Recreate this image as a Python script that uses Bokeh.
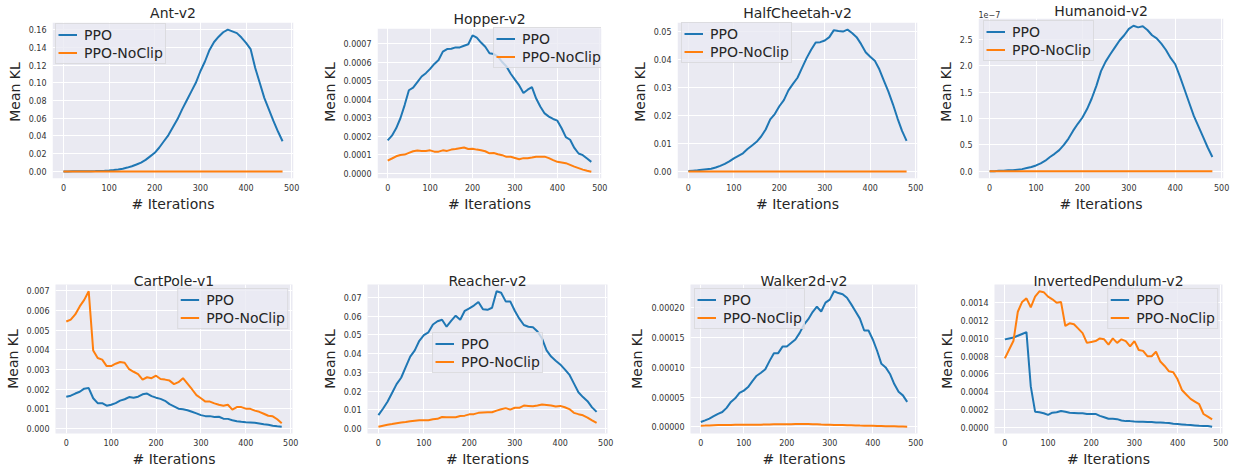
from bokeh.plotting import figure
from bokeh.layouts import column, row
from bokeh.models import Range1d, FixedTicker, PrintfTickFormatter, Label, BoxAnnotation
from bokeh.embed import file_html
from bokeh.resources import INLINE

iterations = list(range(0, 490, 10))

ant_ppo = [0.0000, 0.0000, 0.0001, 0.0001, 0.0002, 0.0002, 0.0003, 0.0004, 0.0006, 0.0008,
           0.0011, 0.0016, 0.0022, 0.0031, 0.0043, 0.0058, 0.0078, 0.0100, 0.0130, 0.0170,
           0.0210, 0.0270, 0.0340, 0.0410, 0.0500, 0.0590, 0.0700, 0.0800, 0.0900, 0.1000,
           0.1130, 0.1240, 0.1370, 0.1460, 0.1520, 0.1570, 0.1600, 0.1580, 0.1560, 0.1510,
           0.1450, 0.1380, 0.1170, 0.1000, 0.0830, 0.0700, 0.0570, 0.0450, 0.0340]
ant_noclip = [0.00001, 0.00001, 0.00001, 0.00001, 0.00001, 0.00001, 0.00001, 0.00001, 0.00001, 0.00001,
              0.00001, 0.00002, 0.00002, 0.00002, 0.00002, 0.00002, 0.00002, 0.00002, 0.00002, 0.00002,
              0.00002, 0.00002, 0.00002, 0.00002, 0.00002, 0.00002, 0.00002, 0.00002, 0.00002, 0.00002,
              0.00002, 0.00002, 0.00002, 0.00002, 0.00002, 0.00002, 0.00002, 0.00002, 0.00002, 0.00002,
              0.00002, 0.00002, 0.00002, 0.00001, 0.00001, 0.00001, 0.00001, 0.00001, 0.00001]

hopper_ppo = [0.000178, 0.000203, 0.000243, 0.000297, 0.000368, 0.000448, 0.000462, 0.000492, 0.000522, 0.000540,
              0.000563, 0.000590, 0.000611, 0.000656, 0.000670, 0.000672, 0.000679, 0.000679, 0.000688, 0.000696,
              0.000744, 0.000732, 0.000705, 0.000682, 0.000647, 0.000643, 0.000629, 0.000600, 0.000576, 0.000537,
              0.000505, 0.000474, 0.000433, 0.000451, 0.000465, 0.000403, 0.000359, 0.000323, 0.000306, 0.000293,
              0.000284, 0.000243, 0.000195, 0.000181, 0.000137, 0.000107, 0.000098, 0.000080, 0.000062]
hopper_noclip = [0.000069, 0.000080, 0.000092, 0.000099, 0.000101, 0.000110, 0.000119, 0.000123, 0.000121, 0.000121,
                 0.000124, 0.000117, 0.000117, 0.000124, 0.000121, 0.000128, 0.000131, 0.000135, 0.000139, 0.000131,
                 0.000133, 0.000128, 0.000124, 0.000119, 0.000108, 0.000110, 0.000103, 0.000098, 0.000089, 0.000089,
                 0.000083, 0.000076, 0.000082, 0.000082, 0.000085, 0.000089, 0.000089, 0.000090, 0.000082, 0.000071,
                 0.000062, 0.000059, 0.000055, 0.000046, 0.000036, 0.000028, 0.000020, 0.000014, 0.000009]

halfcheetah_ppo = [0.0002, 0.0003, 0.0004, 0.0006, 0.0008, 0.0010, 0.0014, 0.0020, 0.0027, 0.0036,
                   0.0047, 0.0056, 0.0065, 0.0080, 0.0093, 0.0106, 0.0125, 0.0150, 0.0186, 0.0205,
                   0.0233, 0.0255, 0.0290, 0.0313, 0.0335, 0.0370, 0.0405, 0.0435, 0.0461, 0.0462,
                   0.0468, 0.0480, 0.0505, 0.0502, 0.0500, 0.0507, 0.0495, 0.0480, 0.0455, 0.0426,
                   0.0410, 0.0396, 0.0365, 0.0325, 0.0285, 0.0240, 0.0190, 0.0145, 0.0109]
halfcheetah_noclip = [0.00002, 0.00002, 0.00002, 0.00002, 0.00002, 0.00002, 0.00002, 0.00002, 0.00002, 0.00003,
                      0.00003, 0.00003, 0.00003, 0.00003, 0.00003, 0.00003, 0.00003, 0.00003, 0.00003, 0.00003,
                      0.00003, 0.00003, 0.00003, 0.00003, 0.00003, 0.00003, 0.00003, 0.00003, 0.00003, 0.00003,
                      0.00003, 0.00003, 0.00003, 0.00003, 0.00003, 0.00003, 0.00003, 0.00003, 0.00003, 0.00003,
                      0.00003, 0.00003, 0.00002, 0.00002, 0.00002, 0.00002, 0.00002, 0.00002, 0.00002]

# Humanoid values in units of 1e-7 (axis offset text "1e-7")
humanoid_ppo = [0.00, 0.00, 0.01, 0.01, 0.02, 0.02, 0.03, 0.04, 0.06, 0.08,
                0.11, 0.15, 0.20, 0.27, 0.33, 0.40, 0.50, 0.62, 0.77, 0.90,
                1.02, 1.18, 1.38, 1.62, 1.90, 2.08, 2.22, 2.35, 2.48, 2.58,
                2.70, 2.76, 2.73, 2.75, 2.68, 2.58, 2.52, 2.42, 2.30, 2.15,
                2.03, 1.80, 1.55, 1.30, 1.05, 0.85, 0.65, 0.45, 0.27]
humanoid_noclip = [0.0, 0.0, 0.0, 0.0, 0.0, 0.0, 0.0, 0.0, 0.0, 0.0,
                   0.0, 0.0, 0.0, 0.0, 0.0, 0.0, 0.0, 0.0, 0.0, 0.0,
                   0.0, 0.0, 0.0, 0.0, 0.0, 0.0, 0.0, 0.0, 0.0, 0.0,
                   0.0, 0.0, 0.0, 0.0, 0.0, 0.0, 0.0, 0.0, 0.0, 0.0,
                   0.0, 0.0, 0.0, 0.0, 0.0, 0.0, 0.0, 0.0, 0.0]

cartpole_ppo = [0.00161, 0.00166, 0.00177, 0.00186, 0.00202, 0.00205, 0.00153, 0.00128, 0.00128, 0.00115,
                0.00120, 0.00128, 0.00141, 0.00148, 0.00159, 0.00156, 0.00161, 0.00173, 0.00177, 0.00164,
                0.00156, 0.00150, 0.00140, 0.00123, 0.00112, 0.00100, 0.00097, 0.00092, 0.00084, 0.00076,
                0.00067, 0.00062, 0.00062, 0.00058, 0.00059, 0.00049, 0.00048, 0.00041, 0.00036, 0.00033,
                0.00031, 0.00030, 0.00028, 0.00025, 0.00021, 0.00018, 0.00013, 0.00010, 0.00008]
cartpole_noclip = [0.00544, 0.00554, 0.00580, 0.00621, 0.00654, 0.00698, 0.00396, 0.00358, 0.00350, 0.00317,
                   0.00317, 0.00329, 0.00338, 0.00334, 0.00301, 0.00288, 0.00276, 0.00248, 0.00260, 0.00255,
                   0.00268, 0.00251, 0.00248, 0.00243, 0.00225, 0.00235, 0.00255, 0.00227, 0.00199, 0.00169,
                   0.00153, 0.00136, 0.00136, 0.00127, 0.00120, 0.00115, 0.00120, 0.00095, 0.00108, 0.00108,
                   0.00100, 0.00099, 0.00090, 0.00084, 0.00074, 0.00064, 0.00061, 0.00046, 0.00026]

reacher_ppo = [0.0072, 0.0106, 0.0143, 0.0190, 0.0237, 0.0271, 0.0328, 0.0384, 0.0417, 0.0468,
               0.0498, 0.0513, 0.0555, 0.0572, 0.0580, 0.0543, 0.0574, 0.0602, 0.0580, 0.0628,
               0.0641, 0.0656, 0.0675, 0.0636, 0.0633, 0.0644, 0.0732, 0.0724, 0.0678, 0.0678,
               0.0628, 0.0586, 0.0552, 0.0543, 0.0540, 0.0518, 0.0480, 0.0417, 0.0384, 0.0362,
               0.0342, 0.0316, 0.0288, 0.0241, 0.0194, 0.0168, 0.0146, 0.0113, 0.0089]
reacher_noclip = [0.0010, 0.0015, 0.0020, 0.0024, 0.0029, 0.0032, 0.0035, 0.0039, 0.0042, 0.0044,
                  0.0045, 0.0045, 0.0050, 0.0052, 0.0062, 0.0061, 0.0061, 0.0061, 0.0067, 0.0069,
                  0.0076, 0.0077, 0.0084, 0.0086, 0.0087, 0.0087, 0.0096, 0.0103, 0.0109, 0.0101,
                  0.0111, 0.0111, 0.0123, 0.0121, 0.0119, 0.0123, 0.0128, 0.0126, 0.0123, 0.0118,
                  0.0121, 0.0114, 0.0104, 0.0084, 0.0077, 0.0071, 0.0059, 0.0044, 0.0030]

walker_ppo = [0.0000083, 0.0000110, 0.0000140, 0.0000180, 0.0000220, 0.0000250, 0.0000320, 0.0000420, 0.0000480, 0.0000570,
              0.0000610, 0.0000670, 0.0000770, 0.0000860, 0.0000910, 0.0000970, 0.0001110, 0.0001240, 0.0001240, 0.0001350,
              0.0001350, 0.0001410, 0.0001470, 0.0001580, 0.0001720, 0.0001810, 0.0001930, 0.0002020, 0.0001940, 0.0002090,
              0.0002140, 0.0002280, 0.0002250, 0.0002230, 0.0002170, 0.0002060, 0.0001940, 0.0001820, 0.0001620, 0.0001620,
              0.0001470, 0.0001280, 0.0001060, 0.0001000, 0.0000890, 0.0000720, 0.0000590, 0.0000530, 0.0000420]
walker_noclip = [0.0000020, 0.0000022, 0.0000025, 0.0000028, 0.0000030, 0.0000032, 0.0000033, 0.0000034, 0.0000035, 0.0000036,
                 0.0000037, 0.0000037, 0.0000036, 0.0000036, 0.0000038, 0.0000040, 0.0000042, 0.0000044, 0.0000045, 0.0000045,
                 0.0000046, 0.0000046, 0.0000047, 0.0000048, 0.0000050, 0.0000048, 0.0000046, 0.0000043, 0.0000040, 0.0000038,
                 0.0000036, 0.0000034, 0.0000032, 0.0000030, 0.0000028, 0.0000026, 0.0000024, 0.0000022, 0.0000021, 0.0000020,
                 0.0000019, 0.0000017, 0.0000015, 0.0000013, 0.0000011, 0.0000009, 0.0000007, 0.0000005, 0.0000003]

pendulum_ppo = [0.000989, 0.001000, 0.001010, 0.001030, 0.001050, 0.001070, 0.000460, 0.000176, 0.000169, 0.000158,
                0.000140, 0.000165, 0.000169, 0.000184, 0.000176, 0.000165, 0.000162, 0.000158, 0.000158, 0.000151,
                0.000151, 0.000151, 0.000129, 0.000114, 0.000096, 0.000096, 0.000092, 0.000077, 0.000070, 0.000070,
                0.000066, 0.000063, 0.000063, 0.000059, 0.000059, 0.000055, 0.000055, 0.000051, 0.000048, 0.000040,
                0.000037, 0.000033, 0.000029, 0.000026, 0.000022, 0.000018, 0.000015, 0.000015, 0.000007]
pendulum_noclip = [0.000776, 0.000875, 0.000974, 0.001300, 0.001410, 0.001450, 0.001350, 0.001470, 0.001530, 0.001520,
                   0.001470, 0.001440, 0.001400, 0.001410, 0.001140, 0.001170, 0.001160, 0.001110, 0.001060, 0.000950,
                   0.000960, 0.000970, 0.001000, 0.000990, 0.000930, 0.001000, 0.000950, 0.000990, 0.000970, 0.000910,
                   0.000970, 0.000870, 0.000860, 0.000800, 0.000800, 0.000850, 0.000740, 0.000690, 0.000630, 0.000620,
                   0.000540, 0.000420, 0.000370, 0.000320, 0.000290, 0.000260, 0.000150, 0.000120, 0.000090]

x_ticks = [0, 100, 200, 300, 400, 500]

BG = "#EAEAF2"
TXT = "#262626"
FONT = "DejaVu Sans"
TOP_H = 240
BOT_H = 229
EXT_TOP = 5     # common (row-aligned) frame top of the top row


def style_common(p, yticks, yfmt):
    p.xaxis.ticker = FixedTicker(ticks=x_ticks)
    p.yaxis.ticker = FixedTicker(ticks=yticks)
    p.yaxis.formatter = PrintfTickFormatter(format=yfmt)
    for ax in (p.xaxis[0], p.yaxis[0]):
        ax.axis_line_color = None
        ax.major_tick_line_color = None
        ax.minor_tick_line_color = None
        ax.major_tick_out = 0
        ax.major_tick_in = 0
        ax.major_label_text_font = FONT
        ax.major_label_text_font_size = "8px"
        ax.major_label_text_color = "#333333"
        ax.axis_label_text_font = FONT
        ax.axis_label_text_font_size = "14px"
        ax.axis_label_text_font_style = "normal"
        ax.axis_label_text_color = TXT
        ax.major_label_standoff = 6
        ax.axis_label_standoff = 3
    p.xaxis.major_label_standoff = 5
    p.xaxis.axis_label_standoff = 2
    p.xaxis.axis_label = "# Iterations"
    p.yaxis.axis_label = "Mean KL"
    p.xgrid.grid_line_color = "white"
    p.ygrid.grid_line_color = "white"
    p.xgrid.grid_line_width = 1
    p.ygrid.grid_line_width = 1


def style_legend(p, loc):
    lg = p.legend[0]
    lg.location = loc
    lg.background_fill_color = BG
    lg.background_fill_alpha = 0.8
    lg.border_line_color = "#cccccc"
    lg.border_line_width = 1
    lg.label_text_font = FONT
    lg.label_text_font_size = "14px"
    lg.label_text_color = TXT
    lg.glyph_width = 19
    lg.glyph_height = 17
    lg.label_height = 17
    lg.label_standoff = 7
    lg.spacing = 1
    lg.padding = 2
    lg.margin = 4


def make_panel(title, ppo, noclip, yticks, yfmt, width, height, borders, legend_loc,
               real_top=None, title_y=None, offset_text=None, offset_y=None):
    bl, br, bt, bb = borders
    xlo, xhi = min(iterations), max(iterations)
    xpad = (xhi - xlo) * 0.05
    x0, x1 = xlo - xpad, xhi + xpad
    allv = list(ppo) + list(noclip)
    lo, hi = min(allv), max(allv)
    pad = (hi - lo) * 0.05
    y0, y1 = lo - pad, hi + pad
    frame_bottom = height - bb
    extended = real_top is not None
    if extended:
        true_h = frame_bottom - real_top
        ext_h = frame_bottom - bt
        y1_plot = y0 + (y1 - y0) * ext_h / true_h
    else:
        y1_plot = y1
    p = figure(width=width, height=height, output_backend="svg", toolbar_location=None,
               x_range=Range1d(x0, x1), y_range=Range1d(y0, y1_plot),
               min_border_left=bl, min_border_right=br, min_border_top=bt,
               min_border_bottom=bb,
               background_fill_color="white" if extended else BG,
               border_fill_color="white", outline_line_color=None)
    if extended:
        p.title.text = ""
        p.title.text_font_size = "1px"
        # the grey plotting area only reaches the panel's own top; above it stays white
        p.add_layout(BoxAnnotation(top=y1, fill_color=BG, fill_alpha=1.0,
                                   line_color=None, line_alpha=0, level="image"))
    else:
        p.title.text = title
        p.title.text_font = FONT
        p.title.text_font_size = "14px"
        p.title.text_font_style = "normal"
        p.title.text_color = TXT
        p.title.align = "center"
        p.title.vertical_align = "middle"
        p.title.standoff = -10

    style_common(p, yticks, yfmt)
    if extended:
        p.xgrid.bounds = (x0, x1)
    p.line(iterations, ppo, color="#1f77b4", line_width=2, legend_label="PPO")
    p.line(iterations, noclip, color="#ff7f0e", line_width=2, legend_label="PPO-NoClip")
    style_legend(p, legend_loc)

    if extended:
        per_px = (y1_plot - y0) / (frame_bottom - bt)
        # hide the vertical grid lines above the panel's own top
        p.add_layout(BoxAnnotation(bottom=y1, fill_color="white", fill_alpha=1.0,
                                   line_color=None, line_alpha=0, level="underlay"))
        p.add_layout(Label(x=(x0 + x1) / 2, y=y1_plot - (title_y - bt) * per_px, text=title,
                           text_font=FONT, text_font_size="14px", text_color=TXT,
                           text_align="center", text_baseline="middle"))
        if offset_text:
            p.add_layout(Label(x=x0, y=y1_plot - (offset_y - bt) * per_px, text=offset_text,
                               text_font=FONT, text_font_size="8px", text_color="#333333",
                               text_align="left", text_baseline="middle"))
    return p


p_ant = make_panel("Ant-v2", ant_ppo, ant_noclip,
                   [0.0, 0.02, 0.04, 0.06, 0.08, 0.10, 0.12, 0.14, 0.16], "%.2f",
                   318, TOP_H, (52, 25, EXT_TOP, 62), (3, 114), real_top=22, title_y=12.5)
p_hop = make_panel("Hopper-v2", hopper_ppo, hopper_noclip,
                   [0.0, 0.0001, 0.0002, 0.0003, 0.0004, 0.0005, 0.0006, 0.0007], "%.4f",
                   310, TOP_H, (50, 27, EXT_TOP, 62), (116, 110), real_top=28, title_y=18)
p_hc = make_panel("HalfCheetah-v2", halfcheetah_ppo, halfcheetah_noclip,
                  [0.0, 0.01, 0.02, 0.03, 0.04, 0.05], "%.2f",
                  305, TOP_H, (47, 16, EXT_TOP, 62), (4, 115), real_top=22, title_y=12.5)
p_hum = make_panel("Humanoid-v2", humanoid_ppo, humanoid_noclip,
                   [0.0, 0.5, 1.0, 1.5, 2.0, 2.5], "%.1f",
                   299, TOP_H, (45, 9, EXT_TOP, 62), (5, 117), real_top=18, title_y=10.5,
                   offset_text="1e\u22127", offset_y=13.5)

p_cart = make_panel("CartPole-v1", cartpole_ppo, cartpole_noclip,
                    [0.0, 0.001, 0.002, 0.003, 0.004, 0.005, 0.006, 0.007], "%.3f",
                    316, BOT_H, (55, 24, 44, 31), "top_right")
p_rea = make_panel("Reacher-v2", reacher_ppo, reacher_noclip,
                   [0.0, 0.01, 0.02, 0.03, 0.04, 0.05, 0.06, 0.07], "%.2f",
                   310, BOT_H, (51, 19, 44, 31), (65, 60))
p_wal = make_panel("Walker2d-v2", walker_ppo, walker_noclip,
                   [0.0, 0.00005, 0.0001, 0.00015, 0.0002], "%.5f",
                   309, BOT_H, (61, 18, 44, 31), "top_left")
p_inv = make_panel("InvertedPendulum-v2", pendulum_ppo, pendulum_noclip,
                   [0.0, 0.0002, 0.0004, 0.0006, 0.0008, 0.001, 0.0012, 0.0014], "%.4f",
                   297, BOT_H, (55, 10, 44, 31), "top_right")

layout = column(row(p_ant, p_hop, p_hc, p_hum), row(p_cart, p_rea, p_wal, p_inv))

open("out.html", "w").write(file_html(layout, INLINE))
